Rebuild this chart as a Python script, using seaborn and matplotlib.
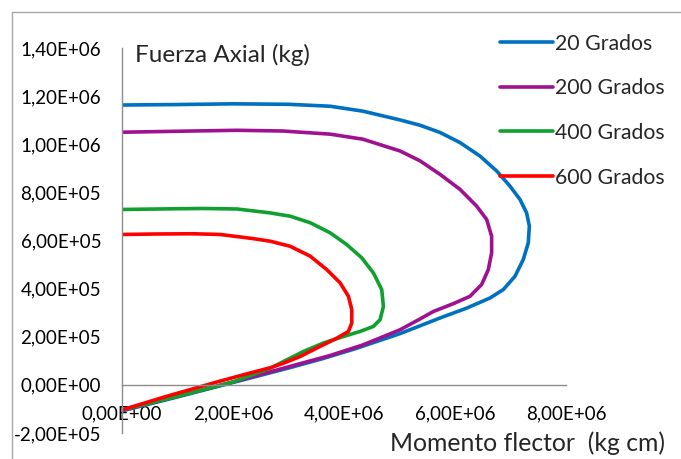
import pandas as pd
import matplotlib
matplotlib.use('Agg')
import matplotlib.pyplot as plt
import seaborn as sns
from matplotlib.ticker import FuncFormatter, MultipleLocator
from matplotlib.patches import Rectangle

# Curvas de interaccion: momento flector (kg cm) y fuerza axial (kg)
m_20 = [0, 1.0e6, 2.0e6, 3.0e6, 3.75e6, 4.34e6, 5.01e6, 5.37e6, 5.73e6, 6.09e6, 6.45e6, 6.75e6,
        6.99e6, 7.17e6, 7.29e6, 7.34e6, 7.32e6, 7.23e6, 7.08e6, 6.87e6, 6.63e6, 6.21e6, 5.73e6,
        5.01e6, 4.2e6, 3.6e6, 3.0e6, 2.0e6, 1.0e6, 0]
p_20 = [1.163e6, 1.165e6, 1.168e6, 1.166e6, 1.158e6, 1.1375e6, 1.101e6, 1.079e6, 1.049e6, 1.007e6,
        0.951e6, 0.889e6, 0.826e6, 0.771e6, 0.715e6, 0.660e6, 0.590e6, 0.521e6, 0.451e6, 0.396e6,
        0.361e6, 0.319e6, 0.278e6, 0.213e6, 0.150e6, 0.108e6, 0.070e6, 0.010e6, -0.050e6, -0.108e6]

m_200 = [0, 1.0e6, 2.07e6, 2.9e6, 3.75e6, 4.34e6, 5.01e6, 5.37e6, 5.73e6, 6.09e6, 6.39e6, 6.57e6,
         6.66e6, 6.66e6, 6.60e6, 6.48e6, 6.27e6, 5.97e6, 5.61e6, 5.37e6, 5.01e6, 4.34e6, 3.75e6,
         3.0e6, 2.0e6, 1.0e6, 0]
p_200 = [1.050e6, 1.054e6, 1.058e6, 1.055e6, 1.042e6, 1.021e6, 0.972e6, 0.931e6, 0.875e6, 0.8125e6,
         0.743e6, 0.6875e6, 0.618e6, 0.549e6, 0.479e6, 0.417e6, 0.368e6, 0.3375e6, 0.305e6, 0.274e6,
         0.229e6, 0.166e6, 0.122e6, 0.075e6, 0.012e6, -0.048e6, -0.106e6]

m_400 = [0, 1.0e6, 1.46e6, 2.07e6, 2.66e6, 3.03e6, 3.39e6, 3.75e6, 4.05e6, 4.32e6, 4.53e6, 4.68e6,
         4.71e6, 4.65e6, 4.53e6, 4.29e6, 3.99e6, 3.63e6, 3.27e6, 2.97e6, 2.67e6, 2.0e6, 1.0e6, 0]
p_400 = [0.729e6, 0.732e6, 0.733e6, 0.731e6, 0.715e6, 0.701e6, 0.674e6, 0.632e6, 0.583e6, 0.528e6,
         0.465e6, 0.396e6, 0.326e6, 0.271e6, 0.243e6, 0.222e6, 0.201e6, 0.174e6, 0.139e6, 0.104e6,
         0.069e6, 0.012e6, -0.048e6, -0.104e6]

m_600 = [0, 0.6e6, 1.28e6, 1.77e6, 2.36e6, 2.67e6, 3.03e6, 3.39e6, 3.69e6, 3.93e6, 4.08e6, 4.14e6,
         4.14e6, 4.08e6, 3.87e6, 3.57e6, 3.21e6, 2.91e6, 2.67e6, 2.27e6, 1.68e6, 0.77e6, 0]
p_600 = [0.625e6, 0.627e6, 0.628e6, 0.625e6, 0.608e6, 0.597e6, 0.576e6, 0.535e6, 0.479e6, 0.424e6,
         0.368e6, 0.3125e6, 0.257e6, 0.222e6, 0.194e6, 0.160e6, 0.118e6, 0.090e6, 0.071e6, 0.047e6,
         0.010e6, -0.050e6, -0.104e6]

series = ['20 Grados', '200 Grados', '400 Grados', '600 Grados']
colores = ['#0070C0', '#A0118F', '#0FA030', '#FF0000']

frames = []
for name, m, p in zip(series, [m_20, m_200, m_400, m_600], [p_20, p_200, p_400, p_600]):
    frames.append(pd.DataFrame({'momento': m, 'axial': p, 'serie': name}))
df = pd.concat(frames, ignore_index=True)

sns.set_style('white')
plt.rcParams['font.family'] = ['Lato', 'DejaVu Sans']

fig = plt.figure(figsize=(6.81, 4.59), dpi=100)
ax = fig.add_axes([122 / 681, 1 - 433 / 459, 444 / 681, 385 / 459])

sns.lineplot(data=df, x='momento', y='axial', hue='serie', hue_order=series,
             palette=colores, sort=False, estimator=None, linewidth=2.6, ax=ax)
for ln in ax.lines:
    ln.set_solid_joinstyle('round')
    ln.set_solid_capstyle('round')

ax.set_xlim(0, 8e6)
ax.set_ylim(-2e5, 1.4e6)
ax.xaxis.set_major_locator(MultipleLocator(2e6))
ax.yaxis.set_major_locator(MultipleLocator(2e5))
fmt = FuncFormatter(lambda v, pos: f"{v:.2E}".replace('.', ','))
ax.xaxis.set_major_formatter(fmt)
ax.yaxis.set_major_formatter(fmt)

gris = '#8c8c8c'
for s in ['top', 'right']:
    ax.spines[s].set_visible(False)
ax.spines['bottom'].set_position(('data', 0))
for s in ['left', 'bottom']:
    ax.spines[s].set_color(gris)
    ax.spines[s].set_linewidth(1.0)
ax.tick_params(axis='both', direction='out', length=5, width=1, color=gris,
               labelsize=13.5, labelcolor='black')
ax.tick_params(axis='y', pad=10)
ax.tick_params(axis='x', pad=10)
ax.set_xlabel('')
ax.set_ylabel('')

fig.text(135 / 681, 1 - 55 / 459, 'Fuerza Axial (kg)', fontsize=17.5, va='center', ha='left')
fig.text(665 / 681, 1 - 443 / 459, 'Momento flector  (kg cm)', fontsize=17.8, va='center', ha='right')

handles, labels = ax.get_legend_handles_labels()
ax.legend(handles, labels, loc='upper left', bbox_to_anchor=(489 / 681, 1 - 23 / 459),
          bbox_transform=fig.transFigure, frameon=False, fontsize=15.3, borderpad=0,
          handlelength=2.5, handletextpad=0.1, labelspacing=1.16)

# marco del grafico
fig.patches.append(Rectangle((12 / 681, -0.5), 2, 0.5 + 1 - 12 / 459, transform=fig.transFigure,
                             fill=False, edgecolor='#a6a6a6', linewidth=1.0))

fig.savefig('out.png', dpi=100)
